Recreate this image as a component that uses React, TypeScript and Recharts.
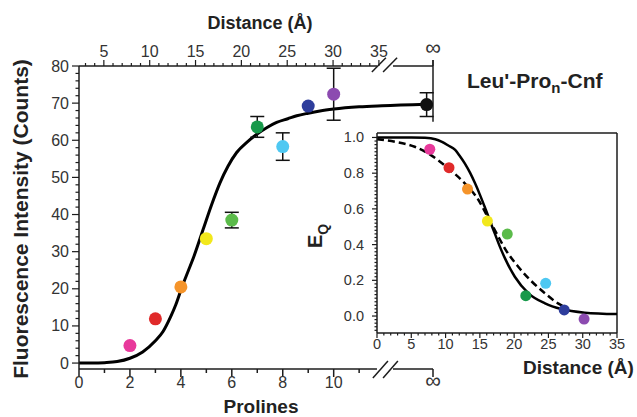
import React from "react";
import {
  ComposedChart,
  Line,
  Scatter,
  XAxis,
  YAxis,
  ErrorBar,
  Cell,
  ReferenceLine,
} from "recharts";

/* ────────────────────────────────────────── */
/*  Data                                      */
/* ────────────────────────────────────────── */

// main panel: prolines vs fluorescence (last point is the "∞" peptide)
const prolines = [2, 3, 4, 5, 6, 7, 8, 9, 10, 13.65];
const intensity = [4.7, 11.9, 20.5, 33.5, 38.5, 63.6, 58.3, 69.2, 72.4, 69.6];
const intensityErr = [0, 0, 0, 0, 2.1, 2.8, 3.7, 0, 7, 3.2];
const pointColors = [
  "#e8399b",
  "#e02a2a",
  "#f5942a",
  "#f2e81c",
  "#5bbb4a",
  "#17994a",
  "#4ec8f2",
  "#2e3d9c",
  "#8c4bb0",
  "#111111",
];

// fitted curve
const fitX = [0, 0.5, 1, 1.5, 2, 2.5, 3, 3.3, 3.6, 3.8, 4.05, 4.3, 4.5, 4.9, 5.2, 5.54, 5.85, 6.19, 6.6, 6.98, 7.4, 7.76, 8.2, 8.55, 9, 9.46, 10, 11, 11.9, 13.65];
const fitY = [0, 0, 0.1, 0.4, 1.3, 3, 6, 8.5, 12.5, 15.7, 20.6, 25, 28.5, 36.5, 42.5, 48.6, 53, 56.7, 59.5, 61.6, 63.5, 64.8, 65.8, 66.6, 67.3, 67.9, 68.4, 69, 69.3, 69.7];

// inset: distance vs E_Q
const insetDist = [7.7, 10.5, 13.2, 16.1, 19.0, 21.7, 24.6, 27.3, 30.2];
const insetE = [0.934, 0.831, 0.711, 0.532, 0.459, 0.114, 0.183, 0.034, -0.017];

const solidDist = [0, 5, 7, 8.5, 9.4, 10.4, 11.4, 12.1, 12.8, 13.6, 14.3, 15, 15.7, 16.7, 17.2, 17.9, 18.7, 20.1, 22.1, 24.5, 26.9, 30.3, 35];
const solidE = [1.0, 1.0, 0.998, 0.99, 0.977, 0.955, 0.93, 0.895, 0.855, 0.8, 0.743, 0.68, 0.612, 0.51, 0.46, 0.39, 0.32, 0.22, 0.127, 0.071, 0.039, 0.019, 0.011];

const dashDist = [0, 2.6, 5.5, 7.7, 10.4, 12.8, 14.8, 16.2, 17.2, 17.9, 18.7, 20.6, 22.6, 24.5, 26.4, 27.7];
const dashE = [0.99, 0.976, 0.948, 0.905, 0.827, 0.743, 0.65, 0.55, 0.48, 0.43, 0.375, 0.276, 0.192, 0.127, 0.071, 0.045];

// axes
const INF_N = 13.9; // where "∞" sits on the proline axis
const INF_D = 40.9; // same spot on the distance axis
const bottomMajor = [0, 2, 4, 6, 8, 10];
const bottomMinor = [1, 3, 5, 7, 9, 11];
const topMajor = [5, 10, 15, 20, 25, 30, 35];
const insetXMajor = [0, 5, 10, 15, 20, 25, 30, 35];
const insetYMajor = [0, 0.2, 0.4, 0.6, 0.8, 1.0];

const topTicks = [...Array.from({ length: 33 }, (_, i) => i + 3), INF_D];
const leftTicks = Array.from({ length: 41 }, (_, i) => i * 2);
const insetXTicks = Array.from({ length: 36 }, (_, i) => i);
const insetYTicks = Array.from({ length: 55 }, (_, i) => Math.round((i * 0.02 - 0.08) * 100) / 100);

const mainPoints = prolines.map((x, i) => ({ x, y: intensity[i], err: intensityErr[i] }));
const fitLine = fitX.map((x, i) => ({ x, y: fitY[i] }));
const insetPoints = insetDist.map((x, i) => ({ x, y: insetE[i] }));
const distPoints = insetDist.map((d, i) => ({ d, y: intensity[i] }));
const solidLine = solidDist.map((x, i) => ({ x, y: solidE[i] }));
const dashLine = dashDist.map((x, i) => ({ x, y: dashE[i] }));

const AX = "#1c1c1c";
const TXT = "#333";
const FONT = "'Liberation Sans', Arial, Helvetica, sans-serif";

/* ────────────────────────────────────────── */
/*  Tick renderers                            */
/* ────────────────────────────────────────── */

function BottomTick({ x, y, payload }: any) {
  const v = payload.value;
  const inf = v === INF_N;
  const major = inf || bottomMajor.includes(v);
  return (
    <g>
      <line x1={x} x2={x} y1={y} y2={y + (major ? 8 : 4)} stroke={AX} strokeWidth={1.5} />
      {major && (
        <text x={x} y={y + 19} textAnchor="middle" fontSize={inf ? 22 : 16} fill={TXT} fontFamily={FONT}>
          {inf ? "∞" : v}
        </text>
      )}
    </g>
  );
}

function TopTick({ x, y, payload }: any) {
  const v = payload.value;
  const inf = v === INF_D;
  const major = inf || topMajor.includes(v);
  return (
    <g>
      <line x1={x} x2={x} y1={y} y2={y - (major ? 6 : 3)} stroke={AX} strokeWidth={1.2} />
      {major && (
        <text x={x} y={y - (inf ? 11 : 9)} textAnchor="middle" fontSize={inf ? 22 : 16} fill={TXT} fontFamily={FONT}>
          {inf ? "∞" : v}
        </text>
      )}
    </g>
  );
}

function LeftTick({ x, y, payload }: any) {
  const v = payload.value;
  const major = v % 10 === 0;
  return (
    <g>
      <line x1={x} x2={x - (major ? 7 : 3.5)} y1={y} y2={y} stroke={AX} strokeWidth={1.2} />
      {major && (
        <text x={x - 10} y={y + 5.5} textAnchor="end" fontSize={16} fill={TXT} fontFamily={FONT}>
          {v}
        </text>
      )}
    </g>
  );
}

function InsetBottomTick({ x, y, payload }: any) {
  const v = payload.value;
  const major = insetXMajor.includes(v);
  return (
    <g>
      <line x1={x} x2={x} y1={y} y2={y + (major ? 5 : 2.5)} stroke={AX} strokeWidth={1.2} />
      {major && (
        <text x={x} y={y + 16} textAnchor="middle" fontSize={14.5} fill={TXT} fontFamily={FONT}>
          {v}
        </text>
      )}
    </g>
  );
}

function InsetLeftTick({ x, y, payload }: any) {
  const v = payload.value;
  const major = insetYMajor.includes(v);
  return (
    <g>
      <line x1={x} x2={x - (major ? 5 : 2.5)} y1={y} y2={y} stroke={AX} strokeWidth={1.2} />
      {major && (
        <text x={x - 13} y={y + 5} textAnchor="end" fontSize={14.5} fill={TXT} fontFamily={FONT}>
          {v.toFixed(1)}
        </text>
      )}
    </g>
  );
}

const dot = (r: number) => (p: any) => <circle cx={p.cx} cy={p.cy} r={r} fill={p.fill} />;

/* ────────────────────────────────────────── */
/*  Chart                                     */
/* ────────────────────────────────────────── */

export default function App() {
  const seg = (a: [number, number], b: [number, number], w = 1.5) => (
    <ReferenceLine
      xAxisId="n"
      yAxisId="v"
      segment={[{ x: a[0], y: a[1] }, { x: b[0], y: b[1] }]}
      stroke={AX}
      strokeWidth={w}
      ifOverflow="visible"
    />
  );

  return (
    <div
      style={{
        position: "fixed",
        left: 0,
        top: 0,
        width: 637,
        height: 417,
        background: "#fff",
        fontFamily: FONT,
      }}
    >
      <ComposedChart width={637} height={417} data={distPoints} margin={{ top: 0, right: 204, bottom: 0, left: 0 }}>
        <XAxis
          xAxisId="n"
          type="number"
          dataKey="x"
          domain={[0, INF_N]}
          allowDataOverflow
          ticks={[...bottomMajor, ...bottomMinor, INF_N]}
          interval={0}
          orientation="bottom"
          height={48}
          axisLine={false}
          tickLine={false}
          tickSize={0}
          tickMargin={0}
          tick={<BottomTick />}
        />
        <XAxis
          xAxisId="d"
          type="number"
          dataKey="d"
          domain={[2.29, INF_D]}
          allowDataOverflow
          ticks={topTicks}
          interval={0}
          orientation="top"
          height={66}
          axisLine={false}
          tickLine={false}
          tickSize={0}
          tickMargin={0}
          tick={<TopTick />}
        />
        <YAxis
          yAxisId="v"
          type="number"
          dataKey="y"
          domain={[-1.6, 80]}
          allowDataOverflow
          ticks={leftTicks}
          interval={0}
          width={79}
          axisLine={{ stroke: AX, strokeWidth: 1.5 }}
          tickLine={false}
          tickSize={0}
          tickMargin={0}
          tick={<LeftTick />}
        />

        {/* broken axes and right edge */}
        {seg([0, -1.6], [11.7, -1.6])}
        {seg([12.33, -1.6], [INF_N, -1.6])}
        {seg([11.54, -4.05], [12.13, 0.54])}
        {seg([11.94, -4.05], [12.52, 0.54])}
        {seg([0, 80], [11.7, 80])}
        {seg([12.33, 80], [INF_N, 80])}
        {seg([11.5, 78.4], [12.05, 82.2])}
        {seg([11.94, 78.4], [12.49, 82.2])}
        {seg([INF_N, 81.6], [INF_N, 65])}

        <Line
          xAxisId="n"
          yAxisId="v"
          data={fitLine}
          dataKey="y"
          type="monotone"
          stroke="#000"
          strokeWidth={3}
          dot={false}
          isAnimationActive={false}
        />
        <Scatter xAxisId="n" yAxisId="v" data={mainPoints} dataKey="y" shape={dot(6.5)} isAnimationActive={false}>
          {pointColors.map((c, i) => (
            <Cell key={i} fill={c} />
          ))}
          <ErrorBar dataKey="err" direction="y" width={7} stroke="#111" strokeWidth={1.5} />
        </Scatter>
      </ComposedChart>

      {/* inset */}
      <div style={{ position: "absolute", left: 300, top: 120 }}>
        <ComposedChart width={337} height={260} margin={{ top: 13, right: 20, bottom: 0, left: 0 }}>
          <XAxis
            type="number"
            dataKey="x"
            domain={[0, 35]}
            allowDataOverflow
            ticks={insetXTicks}
            interval={0}
            height={47}
            axisLine={{ stroke: AX, strokeWidth: 1.5 }}
            tickLine={false}
            tickSize={0}
            tickMargin={0}
            tick={<InsetBottomTick />}
          />
          <YAxis
            type="number"
            dataKey="y"
            domain={[-0.095, 1.025]}
            allowDataOverflow
            ticks={insetYTicks}
            interval={0}
            width={77}
            axisLine={{ stroke: AX, strokeWidth: 1.5 }}
            tickLine={false}
            tickSize={0}
            tickMargin={0}
            tick={<InsetLeftTick />}
          />
          <ReferenceLine y={1.025} stroke={AX} strokeWidth={1.5} />
          <ReferenceLine x={35} stroke={AX} strokeWidth={1.5} />
          <Line data={solidLine} dataKey="y" type="monotone" stroke="#000" strokeWidth={2.5} dot={false} isAnimationActive={false} />
          <Line
            data={dashLine}
            dataKey="y"
            type="monotone"
            stroke="#000"
            strokeWidth={2.5}
            strokeDasharray="7 4"
            dot={false}
            isAnimationActive={false}
          />
          <Scatter data={insetPoints} dataKey="y" shape={dot(5.5)} isAnimationActive={false}>
            {pointColors.slice(0, 9).map((c, i) => (
              <Cell key={i} fill={c} />
            ))}
          </Scatter>
        </ComposedChart>
      </div>

      {/* titles */}
      <svg width={637} height={417} style={{ position: "absolute", left: 0, top: 0, pointerEvents: "none", overflow: "visible" }}>
        <g fontFamily={FONT} fontWeight="bold" fill="#222">
          <text x={260} y={29} textAnchor="middle" fontSize={18}>
            Distance (Å)
          </text>
          <text x={261} y={413} textAnchor="middle" fontSize={19}>
            Prolines
          </text>
          <text transform="translate(28,219) rotate(-90)" textAnchor="middle" fontSize={21}>
            Fluorescence Intensity (Counts)
          </text>
          <text x={467} y={88} fontSize={21}>
            Leu'-Pro
            <tspan dy={5} fontSize={15}>
              n
            </tspan>
            <tspan dy={-5}>-Cnf</tspan>
          </text>
          <text transform="translate(322,248) rotate(-90)" fontSize={20}>
            E
            <tspan dy={6} fontSize={14}>
              Q
            </tspan>
          </text>
          <text x={523} y={374} fontSize={19}>
            Distance (Å)
          </text>
        </g>
      </svg>
    </div>
  );
}
